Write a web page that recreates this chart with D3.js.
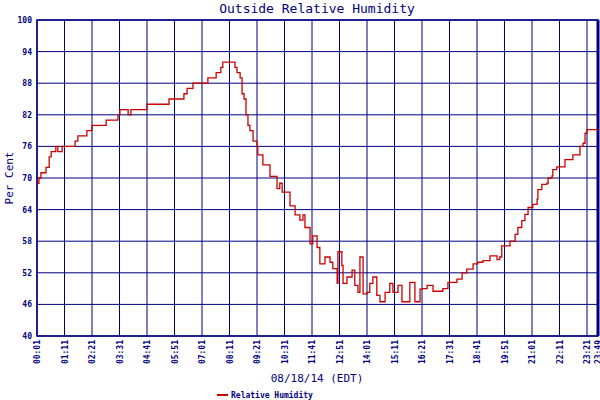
<!DOCTYPE html>
<html>
<head>
<meta charset="utf-8">
<script src="https://cdn.jsdelivr.net/npm/d3@7"></script>
<style>
  body { margin: 0; background: #fff; }
  text { font-family: "DejaVu Sans Mono", monospace; fill: #000080; }
</style>
</head>
<body>
<div id="chart"></div>
<script>
// minutes after 00:01 on 08/18/14
const minutes = [0,5,10,18,23,31,36,43,48,53,64,92,97,104,122,127,135,140,171,176,201,206,211,227,232,239,277,280,331,336,369,374,382,394,397,430,435,450,456,463,468,473,496,504,509,517,522,527,532,537,542,550,560,562,575,593,611,618,624,639,644,657,669,677,682,695,702,713,720,733,746,753,764,766,776,779,789,802,809,817,822,830,840,847,855,865,873,886,898,906,919,929,949,962,975,980,993,1008,1033,1046,1069,1082,1094,1110,1122,1135,1153,1171,1178,1183,1204,1217,1224,1234,1242,1250,1262,1273,1275,1285,1298,1301,1311,1313,1323,1336,1344,1364,1382,1390,1395,1400,1428];
const humidity = [69,70,71,71,72,74,75,75,76,75,76,76,77,78,78,79,79,80,80,81,81,82,83,83,82,83,83,84,84,85,85,86,87,87,88,88,89,89,90,90,91,92,92,91,90,89,86,85,82,80,79,77,76,74.4,72.5,70.3,68,69,67.3,67.3,64.7,63,62,63,60.6,57.5,59,56.8,53.7,55,54,52.8,50,56,53.4,50,51.2,52.5,49.6,48.3,55,48,48.3,50,51.2,47.7,46.5,48.3,50,48.3,49.6,46.5,50.2,46.5,48.9,49,49.6,48.5,49,50.2,50.8,52,52.7,53.7,54,54.3,55.2,54.5,55,57.1,58,59.3,60.6,61.9,63.1,64.4,65,66,67.8,68.8,69,70,70.4,71.6,72.1,72.1,73.5,74.4,76,76.6,78.5,79.2,79.2];
const xTickMinutes = [0,70,140,210,280,350,420,490,560,630,700,770,840,910,980,1050,1120,1190,1260,1330,1400,1428];
const xTickLabels = ["00:01","01:11","02:21","03:31","04:41","05:51","07:01","08:11","09:21","10:31","11:41","12:51","14:01","15:11","16:21","17:31","18:41","19:51","21:01","22:11","23:21","23:49"];
const yTicks = [40,46,52,58,64,70,76,82,88,94,100];

const width = 600, height = 400;
const plotLeft = 37, plotRight = 598, plotTop = 20, plotBottom = 336;
const navy = "#000080";

const svg = d3.select("#chart").append("svg")
  .attr("width", width)
  .attr("height", height);

const x = d3.scaleLinear().domain([0, 1428]).range([plotLeft, plotRight]);
const y = d3.scaleLinear().domain([40, 100]).range([plotBottom, plotTop]);

// Title
svg.append("text")
  .attr("x", 317).attr("y", 13)
  .attr("text-anchor", "middle")
  .attr("font-size", 13)
  .text("Outside Relative Humidity");

// Grid
svg.selectAll("line.h").data(yTicks).enter().append("line")
  .attr("x1", plotLeft).attr("x2", plotRight)
  .attr("y1", d => y(d)).attr("y2", d => y(d))
  .attr("stroke", navy).attr("stroke-width", 1);
svg.selectAll("line.v").data(xTickMinutes).enter().append("line")
  .attr("x1", d => x(d)).attr("x2", d => x(d))
  .attr("y1", plotTop).attr("y2", plotBottom)
  .attr("stroke", navy).attr("stroke-width", 1);

// Frame
svg.append("rect")
  .attr("x", plotLeft).attr("y", plotTop)
  .attr("width", plotRight - plotLeft).attr("height", plotBottom - plotTop)
  .attr("fill", "none").attr("stroke", navy).attr("stroke-width", 1.5);
svg.append("line")
  .attr("x1", plotRight).attr("x2", plotRight).attr("y1", plotTop).attr("y2", plotBottom)
  .attr("stroke", navy).attr("stroke-width", 3);

// Y labels
svg.selectAll("text.yl").data(yTicks).enter().append("text")
  .attr("x", plotLeft - 5).attr("y", d => y(d) + 3)
  .attr("text-anchor", "end")
  .attr("font-size", 8).attr("font-weight", "bold")
  .text(d => d);

// X labels (rotated)
svg.selectAll("text.xl").data(xTickMinutes).enter().append("text")
  .attr("transform", d => `translate(${x(d) + 3},${plotBottom + 4}) rotate(-90)`)
  .attr("text-anchor", "end")
  .attr("font-size", 8).attr("font-weight", "bold")
  .text((d, i) => xTickLabels[i]);

// Axis titles
svg.append("text")
  .attr("transform", `translate(13,${(plotTop + plotBottom) / 2}) rotate(-90)`)
  .attr("text-anchor", "middle")
  .attr("font-size", 11)
  .text("Per Cent");
svg.append("text")
  .attr("x", 317).attr("y", 382)
  .attr("text-anchor", "middle")
  .attr("font-size", 11)
  .text("08/18/14 (EDT)");

// Data line
const line = d3.line()
  .x((d, i) => x(minutes[i]))
  .y(d => y(d))
  .curve(d3.curveStepAfter);
svg.append("path")
  .datum(humidity)
  .attr("d", line)
  .attr("fill", "none")
  .attr("stroke", "#cc0000")
  .attr("stroke-width", 1.3);

// Legend
svg.append("line")
  .attr("x1", 217).attr("x2", 228).attr("y1", 395).attr("y2", 395)
  .attr("stroke", "#cc0000").attr("stroke-width", 2);
svg.append("text")
  .attr("x", 231).attr("y", 398)
  .attr("font-size", 8).attr("font-weight", "bold")
  .text("Relative Humidity");
</script>
</body>
</html>
